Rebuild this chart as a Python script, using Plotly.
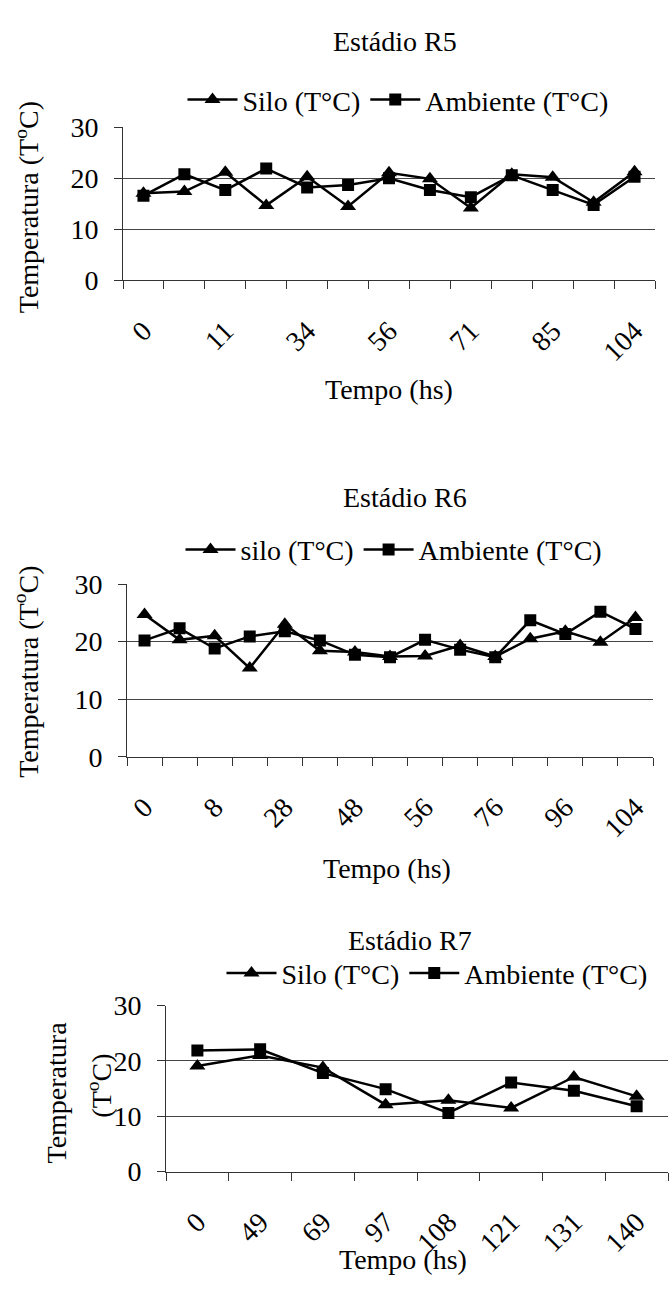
import plotly.graph_objects as go

FONT = "'Liberation Serif', 'Times New Roman', Times, serif"
FS = 28

# ---------------- data ----------------
# Estádio R5 (13 readings, every other one labelled on the axis)
r5_ticks = ["0", "11", "34", "56", "71", "85", "104"]
r5_silo = [17.1, 17.4, 21.2, 14.7, 20.3, 14.5, 21.1, 19.9, 14.2, 20.8, 20.2, 15.3, 21.3]
r5_amb = [16.6, 20.8, 17.7, 21.9, 18.2, 18.7, 20.0, 17.7, 16.3, 20.6, 17.7, 14.8, 20.3]

# Estádio R6 (15 readings, every other one labelled)
r6_ticks = ["0", "8", "28", "48", "56", "76", "96", "104"]
r6_silo = [24.7, 20.3, 21.0, 15.4, 23.0, 18.4, 18.2, 17.4, 17.5, 19.3, 17.4, 20.5, 21.8, 19.9, 24.2]
r6_amb = [20.2, 22.3, 18.8, 20.9, 21.8, 20.2, 17.7, 17.3, 20.3, 18.6, 17.3, 23.7, 21.3, 25.2, 22.2]

# Estádio R7 (8 readings, all labelled)
r7_ticks = ["0", "49", "69", "97", "108", "121", "131", "140"]
r7_silo = [19.1, 21.0, 18.8, 12.1, 12.9, 11.5, 17.1, 13.6]
r7_amb = [21.9, 22.1, 17.8, 14.9, 10.6, 16.1, 14.6, 11.8]

W, H = 670, 1291


def px(x):
    return x / W


def py(y):
    return 1 - y / H


panels = [
    dict(silo=r5_silo, amb=r5_amb, ticks=r5_ticks, step=2, sname="Silo (T°C)",
         xd=(123, 655), yd=(115, 272), title=("Estádio R5", 395, 27),
         leg=(398, 87), tempo=(389, 384),
         ytitles=[("Temperatura (T<sup>o</sup>C)", 27, 197)]),
    dict(silo=r6_silo, amb=r6_amb, ticks=r6_ticks, step=2, sname="silo (T°C)",
         xd=(127, 653), yd=(583, 760), title=("Estádio R6", 405, 494),
         leg=(394, 548), tempo=(387, 875),
         ytitles=[("Temperatura (T<sup>o</sup>C)", 27, 673)]),
    dict(silo=r7_silo, amb=r7_amb, ticks=r7_ticks, step=1, sname="Silo (T°C)",
         xd=(166, 668), yd=(1015, 1185), title=("Estádio R7", 410, 948),
         leg=(437, 982), tempo=(403, 1275),
         ytitles=[("Temperatura", 56, 1104), ("(T<sup>o</sup>C)", 100, 1097)]),
]

fig = go.Figure()
annotations = []
layout = {}
tf = dict(family=FONT, size=FS, color="black")

for k, p in enumerate(panels, start=1):
    sfx = "" if k == 1 else str(k)
    xa, ya = "x" + sfx, "y" + sfx
    lg = "legend" + sfx
    n = len(p["silo"])
    xs = list(range(n))
    fig.add_trace(go.Scatter(
        x=xs, y=p["silo"], xaxis=xa, yaxis=ya, name=p["sname"], legend=lg,
        mode="lines+markers", line=dict(color="black", width=2.5),
        marker=dict(symbol="triangle-up", size=14, color="black")))
    fig.add_trace(go.Scatter(
        x=xs, y=p["amb"], xaxis=xa, yaxis=ya, name="Ambiente (T°C)", legend=lg,
        mode="lines+markers", line=dict(color="black", width=2.5),
        marker=dict(symbol="square", size=12, color="black")))

    layout["xaxis" + sfx] = dict(
        domain=[px(p["xd"][0]), px(p["xd"][1])], anchor=ya,
        range=[-0.5, n - 0.5], showgrid=False, zeroline=False,
        showline=True, linecolor="#333", linewidth=1,
        tickvals=xs[::p["step"]], ticktext=p["ticks"], tickangle=-45,
        ticks="", ticklabelstandoff=22, tickfont=tf,
        minor=dict(tick0=-0.5, dtick=1, ticks="outside", ticklen=8,
                   tickcolor="#333", tickwidth=1, showgrid=False),
    )
    layout["yaxis" + sfx] = dict(
        domain=[py(p["yd"][1]), py(p["yd"][0])], anchor=xa,
        range=[0, 30], tickvals=[0, 10, 20, 30], showgrid=True,
        gridcolor="#444", gridwidth=1, zeroline=False,
        showline=True, linecolor="#333", linewidth=1,
        ticks="outside", ticklen=8, tickcolor="#333", tickfont=tf,
        ticklabelstandoff=10,
    )
    layout[lg] = dict(
        orientation="h", x=px(p["leg"][0]), y=py(p["leg"][1]),
        xanchor="center", yanchor="middle", bgcolor="rgba(0,0,0,0)",
        font=tf, itemwidth=50, tracegroupgap=0,
    )
    t, tx, ty = p["title"]
    annotations += [
        dict(text=t, x=px(tx), y=py(ty), xref="paper", yref="paper",
             showarrow=False, xanchor="center", yanchor="middle", font=tf),
        dict(text="Tempo (hs)", x=px(p["tempo"][0]), y=py(p["tempo"][1]), xref="paper",
             yref="paper", showarrow=False, xanchor="center", yanchor="middle", font=tf),
    ]
    for txt, yx, yy in p["ytitles"]:
        annotations.append(dict(text=txt, x=px(yx), y=py(yy), xref="paper",
                                yref="paper", showarrow=False, xanchor="center",
                                yanchor="middle", textangle=-90, font=tf))

fig.update_layout(
    width=W, height=H, margin=dict(l=0, r=0, t=0, b=0),
    paper_bgcolor="white", plot_bgcolor="white", font=tf,
    showlegend=True, annotations=annotations, **layout,
)

fig.write_html("out.html")
